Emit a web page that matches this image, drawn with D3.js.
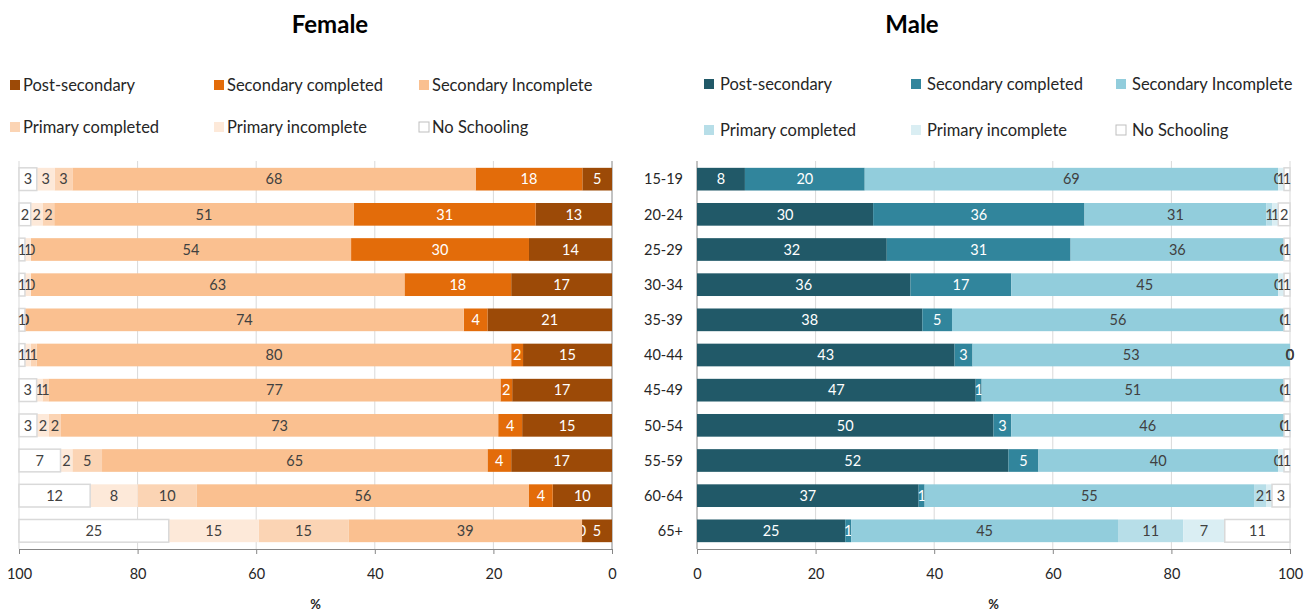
<!DOCTYPE html>
<html>
<head>
<meta charset="utf-8">
<script src="https://cdn.jsdelivr.net/npm/d3@7"></script>
<style>
  body { margin: 0; background: #fff; }
  svg { font-family: Lato, 'Open Sans', sans-serif; }
</style>
</head>
<body>
<svg id="chart"></svg>
<script>
const ages = ['15-19', '20-24', '25-29', '30-34', '35-39', '40-44', '45-49', '50-54', '55-59', '60-64', '65+'];
const levels = ['Post-secondary', 'Secondary completed', 'Secondary Incomplete', 'Primary completed', 'Primary incomplete', 'No Schooling'];
const xTicks = [0, 20, 40, 60, 80, 100];

// female, % by education level
const femalePost = [5, 13, 14, 17, 21, 15, 17, 15, 17, 10, 5];
const femaleSecComp = [18, 31, 30, 18, 4, 2, 2, 4, 4, 4, 0];
const femaleSecInc = [68, 51, 54, 63, 74, 80, 77, 73, 65, 56, 39];
const femalePrimComp = [3, 2, 0, 0, 0, 1, 1, 2, 5, 10, 15];
const femalePrimInc = [3, 2, 1, 1, 0, 1, 1, 2, 2, 8, 15];
const femaleNone = [3, 2, 1, 1, 1, 1, 3, 3, 7, 12, 25];

// male, % by education level
const malePost = [8, 30, 32, 36, 38, 43, 47, 50, 52, 37, 25];
const maleSecComp = [20, 36, 31, 17, 5, 3, 1, 3, 5, 1, 1];
const maleSecInc = [69, 31, 36, 45, 56, 53, 51, 46, 40, 55, 45];
const malePrimComp = [0, 1, 0, 0, 0, 0, 0, 0, 0, 2, 11];
const malePrimInc = [1, 1, 0, 1, 0, 0, 0, 0, 1, 1, 7];
const maleNone = [1, 2, 1, 1, 1, 0, 1, 1, 1, 3, 11];

const femaleColors = ['#9c4a07', '#e36c0a', '#fac090', '#fbd4b4', '#fde9d9', '#ffffff'];
const maleColors = ['#215968', '#31859c', '#92cddc', '#b7dee8', '#daeef3', '#ffffff'];
const darkText = [true, true, false, false, false, false];

const w = 1313;
const h = 612;

const svg = d3.select('#chart').attr('width', w).attr('height', h);

function buildRows(series) {
  return ages.map((a, i) => {
    const row = { age: a };
    levels.forEach((k, j) => (row[k] = series[j][i]));
    return row;
  });
}

const yScale = d3.scaleBand().domain(ages).range([161.5, 548.5]).paddingInner(0.355).paddingOuter(0.18);

function drawPanel(opts) {
  const g = svg.append('g');
  // rounded shares don't always add to 100, so each bar is spread over the full width
  const x = d3.scaleLinear().domain([0, 1]).range(opts.range);
  const rows = buildRows(opts.series);
  const stacked = d3.stack().keys(levels).offset(d3.stackOffsetExpand)(rows);

  // gridlines
  g.selectAll('.grid')
    .data(xTicks)
    .enter()
    .append('line')
    .attr('x1', (d) => x(d / 100))
    .attr('x2', (d) => x(d / 100))
    .attr('y1', 161)
    .attr('y2', 549)
    .attr('stroke', (d) => (d === 0 ? '#868686' : '#d9d9d9'))
    .attr('stroke-width', 1);

  stacked.forEach((layer, li) => {
    const key = layer.key;
    const lg = g.append('g');
    lg.selectAll('rect')
      .data(layer)
      .enter()
      .append('rect')
      .attr('x', (d) => Math.min(x(d[0]), x(d[1])))
      .attr('width', (d) => Math.abs(x(d[1]) - x(d[0])))
      .attr('y', (d) => yScale(d.data.age))
      .attr('height', yScale.bandwidth())
      .attr('fill', opts.colors[li])
      .attr('stroke', li === 5 ? '#d9d9d9' : 'none')
      .attr('stroke-width', 1.5);

    lg.selectAll('text')
      .data(layer)
      .enter()
      .append('text')
      .attr('x', (d) => (x(d[0]) + x(d[1])) / 2)
      .attr('y', (d) => yScale(d.data.age) + yScale.bandwidth() / 2)
      .attr('dy', '0.36em')
      .attr('text-anchor', 'middle')
      .attr('font-size', 14.5)
      .attr('fill', darkText[li] ? '#ffffff' : '#404040')
      .text((d) => d.data[key]);
  });

  // bottom axis
  const axis = g.append('g')
    .attr('transform', 'translate(0,549)')
    .call(d3.axisBottom(x).tickValues(xTicks.map((t) => t / 100)).tickFormat((d) => Math.round(d * 100)).tickSize(5).tickPadding(15));
  axis.select('.domain').attr('stroke', '#868686');
  axis.selectAll('.tick line').attr('stroke', '#868686');
  axis.selectAll('.tick text').attr('font-size', 14.5).attr('fill', '#262626').attr('font-family', 'Lato, sans-serif');

  g.append('text')
    .attr('x', (opts.range[0] + opts.range[1]) / 2)
    .attr('y', 609)
    .attr('text-anchor', 'middle')
    .attr('font-size', 13)
    .attr('font-weight', 'bold')
    .attr('fill', '#262626')
    .text('%');

  // title
  g.append('text')
    .attr('x', opts.titleX)
    .attr('y', 33)
    .attr('text-anchor', 'middle')
    .attr('font-size', 24)
    .attr('font-weight', 'bold')
    .attr('fill', '#000')
    .text(opts.title);

  // legend
  const leg = g.selectAll('.leg')
    .data(levels)
    .enter()
    .append('g')
    .attr('transform', (d, i) => `translate(${opts.legX[i % 3]},${opts.legY[Math.floor(i / 3)]})`);
  leg.append('rect')
    .attr('x', 0)
    .attr('y', -5)
    .attr('width', 10)
    .attr('height', 10)
    .attr('fill', (d, i) => opts.colors[i])
    .attr('stroke', (d, i) => (i === 5 ? '#bfbfbf' : 'none'));
  leg.append('text')
    .attr('x', opts.legTextDx)
    .attr('dy', '0.36em')
    .attr('font-size', 16.5)
    .attr('fill', '#262626')
    .text((d) => d);

  return x;
}

drawPanel({
  series: [femalePost, femaleSecComp, femaleSecInc, femalePrimComp, femalePrimInc, femaleNone],
  colors: femaleColors,
  range: [612, 19],
  title: 'Female',
  titleX: 330,
  legX: [10, 214, 419],
  legY: [85, 127],
  legTextDx: 13
});

drawPanel({
  series: [malePost, maleSecComp, maleSecInc, malePrimComp, malePrimInc, maleNone],
  colors: maleColors,
  range: [697, 1290],
  title: 'Male',
  titleX: 912,
  legX: [704, 911, 1116],
  legY: [84, 130],
  legTextDx: 16
});

// age labels between the panels
svg.append('g')
  .selectAll('text')
  .data(ages)
  .enter()
  .append('text')
  .attr('x', 683)
  .attr('y', (d) => yScale(d) + yScale.bandwidth() / 2)
  .attr('dy', '0.36em')
  .attr('text-anchor', 'end')
  .attr('font-size', 14.5)
  .attr('fill', '#262626')
  .text((d) => d);
</script>
</body>
</html>
